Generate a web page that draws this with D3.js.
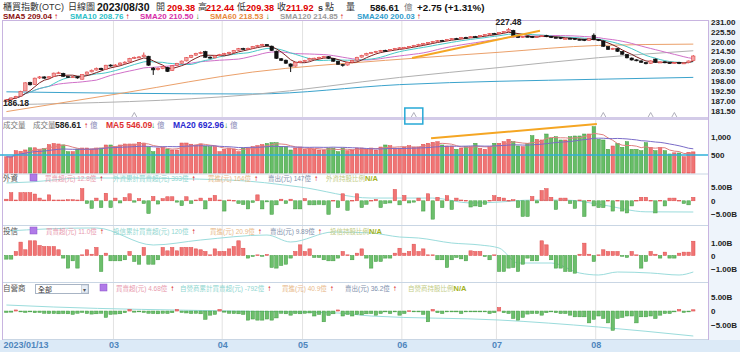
<!DOCTYPE html>
<html lang="zh-Hant">
<head>
<meta charset="UTF-8">
<title>櫃買指數(OTC) 日線圖</title>
<script src="https://cdn.jsdelivr.net/npm/d3@7/dist/d3.min.js"></script>
<style>
    body { margin: 0; background: #fff; }
    svg text { font-family: "Liberation Sans", "Noto Sans CJK TC", sans-serif; }
    .axis text { font-size: 8px; font-weight: bold; fill: #222; }
    .xaxis text { font-size: 9px; font-weight: bold; fill: #4f86bd; }
</style>
</head>
<body>
<script>
    //daily candles [open, high, low, close]
    var ohlc = [
        [186.6,188.0,186.18,187.6],[187.6,188.9,187.3,188.6],[188.6,189.8,188.2,189.4],[189.6,192.6,189.5,192.3],
        [192.5,197.3,192.4,197.0],[197.2,197.6,195.5,195.9],[196.0,199.9,195.8,199.6],[199.7,200.8,199.2,200.3],
        [200.3,200.6,199.2,199.6],[199.7,200.7,199.3,200.4],[200.5,202.7,200.3,202.4],[202.4,203.2,202.0,202.6],
        [202.3,202.6,200.4,200.6],[200.5,200.9,199.8,200.3],[200.3,200.8,199.8,200.4],[200.4,200.6,199.3,199.7],
        [199.0,201.8,198.8,201.6],[201.8,203.3,201.5,203.0],[203.1,204.4,202.8,204.0],[204.1,205.5,203.8,205.1],
        [205.1,205.4,204.0,204.3],[204.4,207.0,204.2,206.8],[206.9,207.3,206.0,206.4],[206.5,207.4,206.1,206.9],
        [207.0,208.4,206.8,208.0],[208.1,209.0,207.8,208.5],[208.6,210.9,208.4,210.6],[210.7,211.6,210.3,211.2],
        [211.2,211.9,210.8,211.4],[211.5,213.9,211.2,212.4],[211.8,212.0,206.5,206.8],[205.2,205.8,201.4,204.2],
        [204.8,205.6,203.9,204.9],[204.9,206.4,204.6,206.0],[205.6,205.9,203.0,203.3],[203.8,206.8,203.6,206.5],
        [206.6,208.1,206.3,207.8],[207.9,209.4,207.6,209.1],[209.2,211.3,208.9,211.0],[211.1,212.6,210.8,212.3],
        [212.4,213.7,212.0,213.4],[213.4,214.4,213.0,213.9],[214.4,214.8,211.0,211.2],[211.3,211.7,210.4,210.8],
        [210.9,212.3,210.6,212.0],[212.1,213.1,211.8,212.8],[212.9,213.7,212.5,213.3],[213.4,214.3,213.0,213.9],
        [214.0,215.3,213.7,215.0],[215.1,216.4,214.8,216.0],[216.1,216.5,215.4,215.8],[215.9,216.6,215.5,216.2],
        [216.3,217.5,216.0,217.2],[217.2,218.1,216.9,217.8],[217.9,218.7,217.6,218.3],[218.3,218.6,217.3,217.6],
        [217.4,217.7,214.7,215.0],[214.6,214.9,210.3,210.6],[210.4,210.8,209.1,209.5],[209.6,209.9,207.5,207.9],
        [207.5,207.8,203.0,206.2],[206.3,208.7,206.0,208.4],[208.4,209.3,208.1,209.0],[209.1,209.8,208.8,209.5],
        [209.6,210.9,209.3,210.6],[210.6,211.0,210.3,210.7],[210.8,211.5,210.5,211.2],[211.3,212.0,211.0,211.7],
        [211.6,211.9,210.3,210.6],[210.5,210.8,208.7,209.0],[209.0,209.3,207.0,207.3],[207.2,207.5,206.0,206.8],
        [206.9,208.7,206.6,208.4],[208.5,209.8,208.2,209.5],[209.6,211.5,209.3,211.2],[211.3,212.6,211.0,212.3],
        [212.4,213.7,212.1,213.4],[213.5,214.2,213.2,213.9],[214.0,214.8,213.7,214.5],[214.6,215.3,214.3,215.0],
        [215.1,215.4,214.6,214.9],[215.0,215.8,214.7,215.5],[215.6,216.4,215.3,216.1],[216.2,216.8,215.9,216.5],
        [216.6,217.0,216.3,216.7],[216.8,217.5,216.5,217.2],[217.3,218.1,217.0,217.8],[217.9,218.7,217.6,218.4],
        [218.5,219.2,218.2,218.9],[219.0,219.7,218.7,219.4],[219.5,220.3,219.2,220.0],[220.1,220.8,219.8,220.5],
        [220.6,220.9,220.1,220.4],[220.5,221.4,220.2,221.1],[221.2,221.9,220.9,221.6],[221.7,222.0,221.2,221.5],
        [221.6,222.5,221.3,222.2],[222.3,222.6,221.8,222.1],[222.2,223.0,221.9,222.7],[222.8,223.1,222.3,222.6],
        [222.7,223.6,222.4,223.3],[223.4,224.1,223.1,223.8],[223.9,224.7,223.6,224.4],[224.5,224.8,223.9,224.2],
        [224.3,225.3,224.0,225.0],[225.1,225.8,224.8,225.5],[225.6,227.48,225.3,226.6],[226.2,226.5,222.4,222.7],
        [222.8,223.1,221.9,222.2],[222.3,223.1,222.0,222.8],[222.9,223.2,222.4,222.7],[222.8,223.1,221.9,222.2],
        [222.3,223.1,222.0,222.8],[222.9,223.6,222.6,223.3],[223.4,223.7,222.4,222.7],[222.8,223.1,221.9,222.2],
        [222.3,222.6,221.8,222.1],[222.2,222.5,221.3,221.6],[221.7,222.0,221.4,221.7],[221.8,222.1,221.3,221.6],
        [221.7,222.0,220.8,221.1],[221.2,221.5,220.7,221.0],[221.1,221.4,220.2,220.5],[220.6,221.9,220.3,221.6],
        [223.5,224.5,220.7,221.0],[221.0,221.3,220.2,220.5],[220.3,220.6,217.0,217.3],[217.2,217.5,215.3,215.6],
        [215.7,216.5,215.4,216.2],[216.0,216.3,214.2,214.5],[214.4,214.7,212.6,212.9],[212.8,213.1,210.6,210.9],
        [210.8,211.1,209.4,209.7],[209.8,210.1,209.0,209.3],[209.2,209.5,208.1,208.4],[208.3,208.6,207.3,207.6],
        [207.8,209.5,207.5,209.2],[210.2,210.5,208.1,208.4],[208.4,208.9,208.1,208.6],[208.7,209.0,207.9,208.2],
        [208.2,208.5,207.7,208.0],[208.0,208.6,207.7,208.3],[208.4,208.7,207.4,207.7],[207.8,208.4,207.5,208.1],
        [208.2,209.4,207.9,209.17],[209.38,212.44,209.38,211.92]
    ];

    //turnover, 億
    var volume = [
        450,444,620,600,640,700,700,650,680,790,820,806,780,592,592,667,694,694,667,694,
        694,778,778,731,778,806,806,806,853,833,731,592,694,722,667,639,639,833,833,800,
        778,806,750,731,731,592,658,694,667,592,694,694,731,760,790,820,842,842,731,731,
        639,694,722,658,694,658,639,639,694,694,592,694,619,639,694,694,667,694,639,722,
        778,758,694,694,722,758,722,722,797,825,853,869,778,750,750,658,694,731,731,825,
        686,658,731,825,825,870,936,869,750,731,825,1036,936,917,1083,964,1008,917,917,1008,
        1028,1028,1083,1083,1286,936,917,658,750,825,714,869,658,658,619,842,714,619,714,619,
        528,560,556,452,576,586.61
    ];

    //net buy / sell, billions
    var foreignNet = [
        0.6,3,0.3,3,3,3,2.5,1,0.3,2.2, 0.3,0.3,0.3,0.4,0.4,0.3,4.5,-1,-2.8,1,
        -2.5,2.8,-2.5,1,-0.8,1.2,2.6,-0.5,0.8,-1, -4.7,1.6,-1.2,0.8,1.5,1.5,-0.5,-1.8,1.5,-1,
        0.3,1,-3,1,2,0.3,-3.8,0.3,0.2,-1, -1.4,-3,-0.6,2.2,-3,-0.4,-5,-1.5,0.6,-1,
        0.6,-3,-3,0.8,-1.5,-1.5,-1.3,-1.5,-5,0.2, -2.5,2.6,-3.5,0.2,2.6,-2.5,-1.3,0.2,0.5,-2.5,
        -1,-0.8,4.2,-1.5,2,-0.8,-0.5,1,-3.8,2.6, -6.8,1.3,-2.5,1.9,-3.2,1,0.3,0.2,-2.3,-1.9,
        -2.2,-1.3,0.2,1.9,1.3,1,0.2,0.4,-2.5,-5.8, -5.8,1.6,-0.8,3.8,4.5,1.3,-3.2,1,1,-1,
        -2.8,0.3,-5.8,0.2,-1.9,-2.5,-2.5,0.2,-3.8,0.2, -3.8,-4.5,-1.9,0.2,1.3,1.3,0.2,-4.5,0.2,-1.9,
        1,1,0.2,-1,-1.5,1.28
    ];
    var trustNet = [
        -0.28,-0.28,0.31,1.03,0.44,1.13,1.13,0.77,0.69,0.69, 0.69,0.44,-0.2,-0.97,-0.41,-0.97,0.05,0.44,0.1,0.62,
        -1.23,0.18,-0.41,-0.41,-0.41,-0.33,0.31,-0.46,-0.67,0.62, -0.67,-0.67,-0.33,0.62,0.36,0.62,0.36,0.62,0.62,0.62,
        0.51,0.44,0.31,0.05,0.51,0.31,0.31,0.51,0.69,1.13, 0.56,-0.2,-0.08,0.05,-0.05,0.08,-0.92,-0.97,-0.77,-0.67,
        -0.2,0.31,0.82,0.31,0.51,-0.15,-0.15,-0.33,-0.41,-0.41, -0.2,0.31,0.05,-0.33,0.18,0.51,-0.2,-0.97,-0.46,-0.46,
        -0.2,-0.2,0.18,0.56,0.18,0.31,0.87,0.31,0.51,0.05, 0.05,-0.33,-0.33,-0.92,-0.33,-0.15,-0.26,-0.41,0.36,0.31,
        0.31,-0.08,-0.33,0.05,-1.23,-1.23,-0.97,-0.92,-1.23,-0.67, -0.2,-0.41,-0.41,1.13,0.82,-0.33,-0.97,-0.97,-1.23,-1.23,
        -1.36,0.1,0.95,0.1,-0.46,0.05,0.44,0.31,0.31,0.31, -0.05,-0.15,0.31,0.05,-0.97,-0.46,0.31,0.1,-0.2,0.26,
        -0.2,-0.2,0.18,0.26,0.26,1.1
    ];
    var dealerNet = [
        -0.5,-0.4,0.4,-0.3,-0.5,-0.3,-0.6,-0.5,-0.8,-0.9, -0.9,-1.0,-0.9,-1.0,-1.2,-0.8,-0.5,-0.9,-1.1,-1.0,
        -0.8,-2.3,-1.2,-1.1,-1.0,-0.6,0.6,-0.4,-0.2,-0.5, -0.8,-0.9,-1.0,-0.8,-0.9,-0.6,0.6,-0.5,-0.7,-0.9,
        -0.8,-1.0,-3.0,-1.5,-1.2,0.6,-0.4,-0.8,-0.9,-1.0, -1.2,-3.3,-2.9,-3.3,-3.3,-2.9,-3.3,-2.5,-0.8,-1.0,
        -1.5,-0.9,-1.0,-0.8,-0.7,-1.8,-1.2,-3.9,-1.6,-1.0, 0.4,-1.8,-1.2,-1.8,-1.2,-1.4,-1.0,-0.9,-1.5,-0.9,
        -0.3,-0.9,-0.3,-1.5,-0.9,0.1,-0.1,-0.3,-1.2,-3.9, 0.6,-0.6,-0.9,-0.3,-0.3,-0.3,-0.9,-0.3,-0.1,-0.1,
        -0.3,-0.1,-0.9,-0.6,1.3,-0.6,-0.9,-2.7,-3.3,-2.3, -1.1,-0.9,-0.9,-1.5,-0.6,-0.3,-0.6,-0.9,-0.9,-1.5,
        -2.1,-2.1,-2.1,-4.3,-3.0,-1.8,-2.7,-4.3,-7.0,-2.7, -2.3,-1.8,-1.8,-4.3,-2.1,-2.1,-1.8,-2.7,-1.5,-0.9,
        -0.9,-0.3,0.6,-0.5,-0.3,0.47
    ];

    //cumulative net, 億 [day index, value]
    var foreignCum = [[0,1550],[5,1590],[16,1750],[22,1750],[47,1670],[62,1390],[77,950],[90,950],
        [98,750],[104,790],[111,870],[118,870],[126,670],[135,400],[145,393]];
    var trustCum = [[0,735],[17,780],[19,780],[31,525],[41,600],[55,675],[60,570],[69,720],[77,705],
        [83,645],[87,630],[94,555],[100,525],[104,480],[108,255],[115,255],[121,105],[125,75],
        [129,120],[136,105],[142,75],[145,120]];
    var dealerCum = [[0,944],[10,832],[47,608],[70,496],[77,328],[104,104],[125,-288],[145,-792]];

    //long moving averages [day index, value]
    var sma60 = [[0,181.0],[25,191.5],[52,203.0],[80,209.5],[104,214.0],[125,217.8],[145,218.53]];
    var sma120 = [[0,184.8],[52,190.5],[83,200.0],[104,205.5],[125,211.0],[145,214.85]];
    var sma240 = [[0,192.0],[52,190.8],[83,196.0],[125,199.0],[145,200.03]];

    //legend values
    var smaNames = ['SMA5', 'SMA10', 'SMA20', 'SMA60', 'SMA120', 'SMA240'];
    var smaValues = [209.04, 208.76, 210.50, 218.53, 214.85, 200.03];
    var smaUp = [1, 1, 0, 0, 1, 1];
    var volLegend = [586.61, 546.09, 692.96];
    var invNames = ['外資', '投信', '自營商'];
    var invNetToday = ['12.8', '11.0', '4.68'];
    var invCumToday = ['393', '120', '-792'];
    var invBuyToday = ['164', '20.9', '40.9'];
    var invSellToday = ['147', '9.89', '36.2'];

    //ticks
    var priceTicks = [181.5, 187, 192.5, 198, 203.5, 209, 214.5, 220, 225.5, 231];
    var volTicks = [500, 1000];
    var monthIdx = [0, 23, 46, 63, 84, 104, 125];
    var monthLabels = ['2023/01/13', '03', '04', '05', '06', '07', '08'];
    var markerIdx = [27, 86, 126, 136, 141];
    var priceTrend = [[86, 210.8], [113, 226.0]];
    var volTrend = [[90, 964], [125, 1361]];

    var w = 740, h = 352;
    var plotR = 708;
    var n = ohlc.length;

    var svg = d3.select('body').append('svg').attr('width', w).attr('height', h);

    //scales
    var x = d3.scaleBand().domain(d3.range(n)).range([4.7, 695]).paddingInner(0.28);
    var xl = d3.scaleLinear().domain([-0.5, n - 0.5]).range([4.7, 695]);
    var bw = x.bandwidth();
    var yP = d3.scaleLinear().domain([181.5, 231]).range([110.7, 21.7]);
    var yV = d3.scaleLinear().domain([0, 1000]).range([173, 137]);
    var yF = d3.scaleLinear().domain([-5, 5]).range([214.3, 187.3]);
    var yT = d3.scaleLinear().domain([-1, 1]).range([268.5, 242.5]);
    var yD = d3.scaleLinear().domain([-5, 5]).range([324.8, 297.3]);

    function isUp(i) { return ohlc[i][3] >= ohlc[i][0]; }

    //backgrounds
    svg.append('rect').attr('x', plotR).attr('y', 20).attr('width', w - plotR).attr('height', 320).attr('fill', '#eef4fb');
    svg.append('rect').attr('x', 0).attr('y', 340).attr('width', w).attr('height', 12).attr('fill', '#dceaf7');

    //month grid
    svg.selectAll('line.vgrid')
        .data(monthIdx.slice(1))
        .enter()
        .append('line')
        .attr('class', 'vgrid')
        .attr('x1', function(d) { return xl(d - 0.5); })
        .attr('x2', function(d) { return xl(d - 0.5); })
        .attr('y1', 21).attr('y2', 340)
        .attr('stroke', '#e2e2e2');

    //panel borders
    [174, 225.5, 282.5, 339.5].forEach(function(d) {
        svg.append('line').attr('x1', 2).attr('x2', plotR).attr('y1', d).attr('y2', d).attr('stroke', '#c9d6e4');
    });
    svg.append('line').attr('x1', 2).attr('x2', plotR).attr('y1', 20.5).attr('y2', 20.5).attr('stroke', '#c8b4e0');
    svg.append('rect').attr('x', 2).attr('y', 117).attr('width', plotR - 2).attr('height', 3).attr('fill', '#d3cbe8');
    svg.append('line').attr('x1', 2.5).attr('x2', 2.5).attr('y1', 20).attr('y2', 340).attr('stroke', '#c8b4e0');
    svg.append('line').attr('x1', plotR + 0.5).attr('x2', plotR + 0.5).attr('y1', 20).attr('y2', 340).attr('stroke', '#c8b4e0');

    //moving averages of the close
    var closes = ohlc.map(function(d) { return d[3]; });
    function movAvg(arr, k) {
        return arr.map(function(d, i) { return d3.mean(arr.slice(Math.max(0, i - k + 1), i + 1)); });
    }
    var lineP = d3.line().x(function(d, i) { return x(i) + bw / 2; }).y(function(d) { return yP(d); });
    var lineS = d3.line().x(function(d) { return x(d[0]) + bw / 2; }).y(function(d) { return yP(d[1]); }).curve(d3.curveMonotoneX);

    [[sma240, '#3ba3cc'], [sma120, '#b0b0b0'], [sma60, '#eba06a']].forEach(function(s) {
        svg.append('path').attr('d', lineS(s[0])).attr('fill', 'none').attr('stroke', s[1]).attr('stroke-width', 1);
    });
    [[20, '#d070c8'], [10, '#48c8c8'], [5, '#7a2020']].forEach(function(s) {
        svg.append('path').attr('d', lineP(movAvg(closes, s[0]))).attr('fill', 'none')
            .attr('stroke', s[1]).attr('stroke-width', 1);
    });

    //candles
    var candles = svg.selectAll('g.candle')
        .data(ohlc)
        .enter()
        .append('g')
        .attr('class', 'candle');
    candles.append('line')
        .attr('x1', function(d, i) { return x(i) + bw / 2; })
        .attr('x2', function(d, i) { return x(i) + bw / 2; })
        .attr('y1', function(d) { return yP(d[1]); })
        .attr('y2', function(d) { return yP(d[2]); })
        .attr('stroke', function(d, i) { return isUp(i) ? '#e04848' : '#111'; });
    candles.append('rect')
        .attr('x', function(d, i) { return x(i); })
        .attr('width', bw)
        .attr('y', function(d) { return yP(Math.max(d[0], d[3])); })
        .attr('height', function(d) { return Math.max(1, Math.abs(yP(d[0]) - yP(d[3]))); })
        .attr('fill', function(d, i) { return isUp(i) ? '#f4a3a3' : '#111'; })
        .attr('stroke', function(d, i) { return isUp(i) ? '#e04848' : '#111'; })
        .attr('stroke-width', 0.6);

    //high / low labels
    var hiI = d3.maxIndex(ohlc, function(d) { return d[1]; });
    var loI = d3.minIndex(ohlc, function(d) { return d[2]; });
    svg.append('text').attr('x', x(hiI) + bw / 2).attr('y', yP(ohlc[hiI][1]) - 3)
        .attr('text-anchor', 'middle').attr('font-size', '8.5px').attr('font-weight', 'bold').attr('fill', '#222')
        .text(ohlc[hiI][1].toFixed(2));
    svg.append('text').attr('x', 3).attr('y', yP(ohlc[loI][2]) + 4)
        .attr('font-size', '8.5px').attr('font-weight', 'bold').attr('fill', '#222')
        .text(ohlc[loI][2].toFixed(2));

    //trend lines
    svg.append('line')
        .attr('x1', x(priceTrend[0][0])).attr('y1', yP(priceTrend[0][1]))
        .attr('x2', x(priceTrend[1][0])).attr('y2', yP(priceTrend[1][1]))
        .attr('stroke', '#f5a623').attr('stroke-width', 2);

    //event markers
    svg.selectAll('path.marker')
        .data(markerIdx)
        .enter()
        .append('path')
        .attr('class', 'marker')
        .attr('d', function(d) {
            var cx = x(d) + bw / 2;
            return 'M' + (cx - 2.5) + ',117 L' + cx + ',112.5 L' + (cx + 2.5) + ',117';
        })
        .attr('fill', 'none').attr('stroke', '#9a9aa8').attr('stroke-width', 0.8);
    svg.append('rect')
        .attr('x', x(markerIdx[1]) + bw / 2 - 9).attr('y', 108)
        .attr('width', 18).attr('height', 16)
        .attr('fill', 'none').attr('stroke', '#27a9d6').attr('stroke-width', 1.5);

    //volume
    svg.selectAll('rect.vol')
        .data(volume)
        .enter()
        .append('rect')
        .attr('class', 'vol')
        .attr('x', function(d, i) { return x(i); })
        .attr('width', bw)
        .attr('y', function(d) { return yV(d); })
        .attr('height', function(d) { return yV(0) - yV(d); })
        .attr('fill', function(d, i) { return isUp(i) ? '#f07474' : '#66bd66'; })
        .attr('stroke', function(d, i) { return isUp(i) ? '#de4a4a' : '#3f9a3f'; })
        .attr('stroke-width', 0.5);
    var lineV = d3.line().x(function(d, i) { return x(i) + bw / 2; }).y(function(d) { return yV(d); });
    svg.append('path').attr('d', lineV(movAvg(volume, 5))).attr('fill', 'none').attr('stroke', '#e08080').attr('stroke-width', 1);
    svg.append('path').attr('d', lineV(movAvg(volume, 20))).attr('fill', 'none').attr('stroke', '#7a6cc8').attr('stroke-width', 1);
    svg.append('line').attr('x1', 0).attr('x2', plotR).attr('y1', yV(500)).attr('y2', yV(500))
        .attr('stroke', '#2fb0da').attr('stroke-width', 1.6);
    svg.append('line')
        .attr('x1', x(volTrend[0][0])).attr('y1', yV(volTrend[0][1]))
        .attr('x2', x(volTrend[1][0])).attr('y2', yV(volTrend[1][1]))
        .attr('stroke', '#f5a623').attr('stroke-width', 2);

    //investor panels
    var panels = [
        { data: foreignNet, cum: foreignCum, y: yF, cumRange: [212, 178], ticks: [-5, 0, 5] },
        { data: trustNet, cum: trustCum, y: yT, cumRange: [275, 228], ticks: [-1, 0, 1] },
        { data: dealerNet, cum: dealerCum, y: yD, cumRange: [336, 305], ticks: [-5, 0, 5] }
    ];
    panels.forEach(function(p) {
        var yc = d3.scaleLinear().domain(d3.extent(p.cum, function(d) { return d[1]; })).range(p.cumRange);
        svg.append('path')
            .attr('d', d3.line()
                .x(function(d) { return x(d[0]) + bw / 2; })
                .y(function(d) { return yc(d[1]); })
                .curve(d3.curveMonotoneX)(p.cum))
            .attr('fill', 'none').attr('stroke', '#9bdcdc').attr('stroke-width', 1);
        svg.append('g').selectAll('rect')
            .data(p.data)
            .enter()
            .append('rect')
            .attr('x', function(d, i) { return x(i); })
            .attr('width', bw)
            .attr('y', function(d) { return p.y(Math.max(0, d)); })
            .attr('height', function(d) { return Math.max(0.8, Math.abs(p.y(d) - p.y(0))); })
            .attr('fill', function(d) { return d >= 0 ? '#f07474' : '#6cbf6c'; })
            .attr('stroke', function(d) { return d >= 0 ? '#de4a4a' : '#3f9a3f'; })
            .attr('stroke-width', 0.5);
        svg.append('g')
            .attr('class', 'axis')
            .attr('transform', 'translate(' + plotR + ',0)')
            .call(d3.axisRight(p.y).tickValues(p.ticks).tickSize(0).tickPadding(3)
                .tickFormat(function(d) { return d === 0 ? '0' : d3.format('.2f')(d) + 'B'; }))
            .select('.domain').remove();
    });

    //right axes
    svg.append('g')
        .attr('class', 'axis')
        .attr('transform', 'translate(' + plotR + ',0)')
        .call(d3.axisRight(yP).tickValues(priceTicks).tickSize(0).tickPadding(3).tickFormat(d3.format('.2f')))
        .select('.domain').remove();
    svg.append('g')
        .attr('class', 'axis')
        .attr('transform', 'translate(' + plotR + ',0)')
        .call(d3.axisRight(yV).tickValues(volTicks).tickSize(0).tickPadding(3))
        .select('.domain').remove();

    //bottom axis
    var xAxis = svg.append('g')
        .attr('class', 'xaxis')
        .attr('transform', 'translate(0,340)')
        .call(d3.axisBottom(xl).tickValues(monthIdx.map(function(d) { return d - 0.5; })).tickSize(0).tickPadding(2)
            .tickFormat(function(d, i) { return monthLabels[i]; }));
    xAxis.select('.domain').remove();
    xAxis.selectAll('.tick text').filter(function(d, i) { return i === 0; })
        .attr('text-anchor', 'start').attr('x', 3 - xl(-0.5));

    //text helper
    function label(x0, y0, s, fill, size, bold) {
        return svg.append('text').attr('x', x0).attr('y', y0).text(s)
            .attr('fill', fill).attr('font-size', size + 'px')
            .attr('font-weight', bold ? 'bold' : 'normal');
    }
    function arrow(x0, y0, up) {
        return label(x0, y0, up ? '↑' : '↓', up ? '#d40000' : '#1f8f1f', 8, true);
    }

    //header
    var last = ohlc[n - 1], prevClose = ohlc[n - 2][3];
    var chg = last[3] - prevClose;
    label(3, 10, '櫃買指數(OTC)', '#333', 9, false);
    label(68, 10, '日線圖', '#333', 9, false);
    label(97, 10.5, '2023/08/30', '#111', 10.5, true);
    label(156, 10, '開', '#333', 9, false);
    label(167, 10.5, last[0].toFixed(2), '#e00000', 9.2, true);
    label(198, 10, '高', '#333', 9, false);
    label(206, 10.5, last[1].toFixed(2), '#e00000', 9.2, true);
    label(237, 10, '低', '#333', 9, false);
    label(246, 10.5, last[2].toFixed(2), '#e00000', 9.2, true);
    label(277, 10, '收', '#333', 9, false);
    label(286, 10.5, last[3].toFixed(2), '#e00000', 9.2, true);
    label(318, 10.5, 's', '#333', 9, true);
    label(325, 10, '點', '#333', 9, false);
    label(346, 10, '量', '#333', 9, false);
    label(370, 10.5, volLegend[0].toFixed(2), '#111', 9.5, true);
    label(404, 10, '億', '#777', 8.5, false);
    label(417, 10.5, '+' + chg.toFixed(2) + ' (+' + (chg / prevClose * 100).toFixed(2) + '%)', '#111', 9.8, true);

    //SMA legend
    var smaColors = ['#8b1010', '#2cc0c8', '#d62ca8', '#e8883a', '#9a9a9a', '#2f9ccc'];
    var smaX = [3, 70, 140, 210, 280, 357];
    smaNames.forEach(function(s, i) {
        var t = label(smaX[i], 18.5, s + ' ' + smaValues[i].toFixed(2), smaColors[i], 8, true);
        arrow(smaX[i] + t.node().getComputedTextLength() + 2, 18.5, smaUp[i]);
    });

    //volume legend
    label(3, 127.5, '成交量', '#777', 7.5, false);
    label(33, 127.5, '成交量', '#777', 7.5, false);
    label(55, 127.5, volLegend[0].toFixed(2), '#222', 8.5, true);
    arrow(84, 127.5, true);
    label(90, 127.5, '億', '#8a8ab8', 7.5, false);
    label(106, 127.5, 'MA5 ' + volLegend[1].toFixed(2), '#e03030', 8.5, true);
    arrow(151, 127.5, false);
    label(157, 127.5, '億', '#8a8ab8', 7.5, false);
    label(173, 127.5, 'MA20 ' + volLegend[2].toFixed(2), '#2a2ad0', 8.5, true);
    arrow(224, 127.5, false);
    label(230, 127.5, '億', '#8a8ab8', 7.5, false);

    //investor legends
    var legY = [181, 234, 291];
    var legX = [[45, 113, 208, 268, 326], [46, 113, 210, 270, 330], [116, 180, 282, 345, 408]];
    var iconX = [30, 30, 100];
    invNames.forEach(function(name, k) {
        label(3, legY[k], name, '#555', 7.5, false);
        svg.append('rect').attr('x', iconX[k]).attr('y', legY[k] - 7).attr('width', 7).attr('height', 7)
            .attr('fill', '#b07ae8').attr('stroke', '#8a50c8').attr('stroke-width', 0.5);
        var items = [
            ['買賣超(元) ' + invNetToday[k] + '億', '#e89aae'],
            [name + '累計買賣超(元) ' + invCumToday[k] + '億', '#8fd6d0'],
            ['買進(元) ' + invBuyToday[k] + '億', '#e8b98a'],
            ['賣出(元) ' + invSellToday[k] + '億', '#8090ac']
        ];
        items.forEach(function(it, j) {
            var t = label(legX[k][j], legY[k], it[0], it[1], 6.5, false);
            arrow(legX[k][j] + t.node().getComputedTextLength() + 3, legY[k], true);
        });
        var t = label(legX[k][4], legY[k], name + '持股比例 ', '#c2cc86', 6.5, false);
        label(legX[k][4] + t.node().getComputedTextLength(), legY[k], 'N/A', '#a3b21c', 7.5, true);
    });

    //dealer selector
    svg.append('rect').attr('x', 35.5).attr('y', 284.5).attr('width', 53).attr('height', 9)
        .attr('fill', '#fff').attr('stroke', '#a8b4c4');
    svg.append('rect').attr('x', 81.5).attr('y', 285).attr('width', 6.5).attr('height', 8)
        .attr('fill', '#e8eef6').attr('stroke', '#a8b4c4').attr('stroke-width', 0.5);
    label(38, 292, '全部', '#333', 7, false);
    label(82.5, 291.5, '▾', '#555', 6, false);
</script>
</body>
</html>
